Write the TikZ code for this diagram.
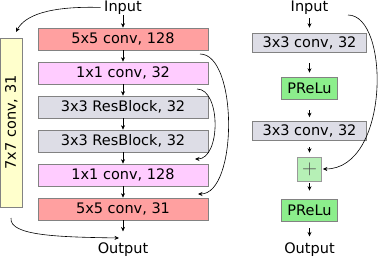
\documentclass[tikz,border=0pt]{standalone}
\usepackage{fontspec}
\setmainfont{DejaVu Sans}
\usetikzlibrary{arrows.meta}
\definecolor{cred}{HTML}{FFA0A0}
\definecolor{cpink}{HTML}{FFCCFF}
\definecolor{cgray}{HTML}{DDDDE6}
\definecolor{cyel}{HTML}{FFFFCC}
\definecolor{cgreen}{HTML}{8CEE8C}
\definecolor{cplus}{HTML}{B6F0B6}
\definecolor{cbord}{HTML}{828282}
\begin{document}
\begin{tikzpicture}[x=1pt,y=-1pt,
  font=\fontsize{14.5}{17}\selectfont,
  box/.style={draw=cbord, line width=0.7pt, inner sep=0pt, minimum height=22pt},
  lbox/.style={box, minimum width=170pt},
  rbox/.style={box, fill=cgray, minimum width=114pt, minimum height=19pt},
  gbox/.style={box, fill=cgreen, minimum width=56pt},
  arr/.style={-{Stealth[length=4.5pt,width=4pt]}, line width=0.6pt},
  lbl/.style={inner sep=1pt}]
\useasboundingbox (0,0) rectangle (381,258);

% left column
\node[lbl] (inL) at (123,7.5) {Input};
\node[lbox, fill=cred]  (b1) at (123,39)  {5x5 conv, 128};
\node[lbox, fill=cpink] (b2) at (123,73)  {1x1 conv, 32};
\node[lbox, fill=cgray] (b3) at (123,107) {3x3 ResBlock, 32};
\node[lbox, fill=cgray] (b4) at (123,141) {3x3 ResBlock, 32};
\node[lbox, fill=cpink] (b5) at (123,175) {1x1 conv, 128};
\node[lbox, fill=cred]  (b6) at (123,209) {5x5 conv, 31};
\node[lbl] (outL) at (123,249.5) {Output};
\node[box, fill=cyel, minimum width=169pt, minimum height=21.5pt, rotate=90] (y7) at (11.25,122.5) {7x7 conv, 31};

\draw[arr] (inL) -- (b1);
\draw[arr] (b1) -- (b2);
\draw[arr] (b2) -- (b3);
\draw[arr] (b3) -- (b4);
\draw[arr] (b4) -- (b5);
\draw[arr] (b5) -- (b6);
\draw[arr, shorten >=10pt] (b6) -- (outL);

\coordinate (s1a) at (200,54);
\coordinate (s1b) at (198,194);
\coordinate (s2a) at (197,89);
\coordinate (s2b) at (195,159);
\draw[arr] (s1a) .. controls (238,54) and (238,194) .. (s1b);
\draw[arr] (s2a) .. controls (221,89) and (221,159) .. (s2b);

\coordinate (ytop) at (16,32);
\coordinate (ybot) at (11,218);
\coordinate (oin) at (119,238);
\draw[arr, shorten <=2.5pt] (inL.west) .. controls (50,6) and (25,15) .. (ytop);
\draw[arr] (ybot) .. controls (9,236) and (60,237) .. (oin);

% right column
\node[lbl] (inR) at (309.5,7.5) {Input};
\node[rbox] (r1) at (309.5,42.5) {3x3 conv, 32};
\node[gbox] (p1) at (309.5,88) {PReLu};
\node[rbox] (r2) at (309.5,131) {3x3 conv, 32};
\node[box, fill=cplus, draw=black!40, minimum width=24pt, minimum height=24pt] (pl) at (309.5,169)
  {\color{black!70}\fontsize{21}{21}\selectfont$+$};
\node[gbox] (p2) at (309.5,210) {PReLu};
\node[lbl] (outR) at (309.5,249.5) {Output};

\draw[arr, shorten <=3pt, shorten >=5pt] (inR) -- (r1);
\draw[arr, shorten <=11pt, shorten >=4pt] (r1) -- (p1);
\draw[arr, shorten <=11pt, shorten >=4pt] (p1) -- (r2);
\draw[arr, shorten <=6pt, shorten >=4pt] (r2) -- (pl);
\draw[arr, shorten <=2pt, shorten >=8pt] (pl) -- (p2);
\draw[arr, shorten <=7pt, shorten >=5pt] (p2) -- (outR);

\coordinate (rs) at (348,15);
\draw[arr, shorten >=1pt] (rs) .. controls (390,15) and (390,169) .. (pl.east);
\end{tikzpicture}
\end{document}
